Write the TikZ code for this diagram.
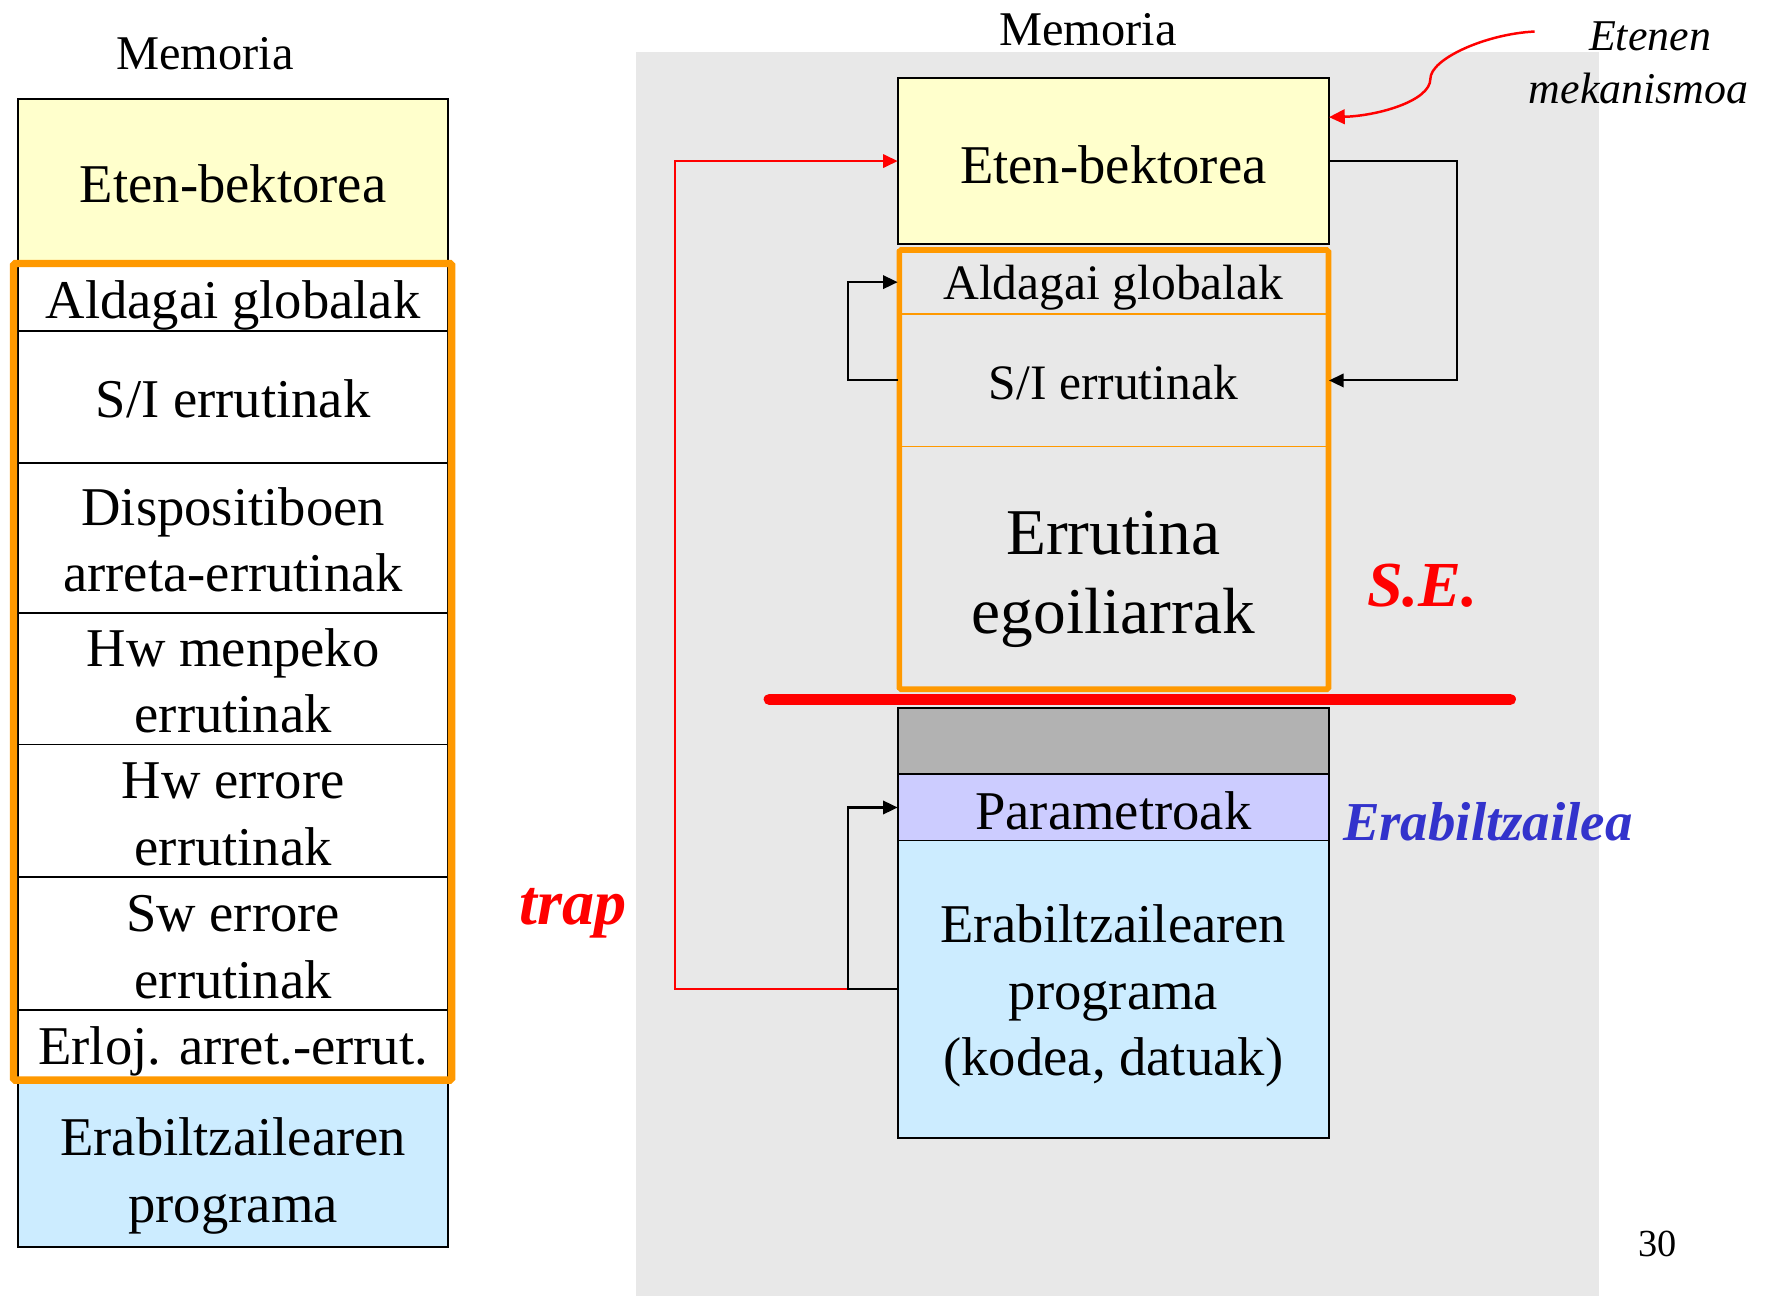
\documentclass[tikz,border=0pt]{standalone}
\usepackage{fontspec}
\setmainfont{Liberation Serif}
\usetikzlibrary{arrows.meta}

\definecolor{vecyellow}{HTML}{FFFFCC}
\definecolor{userblue}{HTML}{CCECFF}
\definecolor{paramlav}{HTML}{CCCCFF}
\definecolor{stackgray}{HTML}{B2B2B2}
\definecolor{panelgray}{HTML}{E8E8E8}
\definecolor{osorange}{HTML}{FF9900}
\definecolor{userlabel}{HTML}{3333CC}

\newcommand{\bigtext}{\fontsize{48.5}{59}\selectfont}

\begin{document}
\begin{tikzpicture}[x=1pt,y=-1pt,
  cell/.style={draw=black, line width=1.6pt, inner sep=0pt, outer sep=0pt, anchor=north west},
  leftcell/.style={cell, minimum width=382pt},
  rightcell/.style={cell, minimum width=383pt},
  oscell/.style={rightcell, draw=osorange, line width=1.4pt},
  celltext/.style={inner sep=0pt, outer sep=0pt, align=center, font=\bigtext},
  osframe/.style={draw=osorange, line width=6.5pt, rounded corners=1.5pt},
  tip/.style={-{Triangle[length=13pt,width=12pt]}},
  conn/.style={draw=black, line width=1.8pt, tip},
  trapconn/.style={draw=red, line width=1.8pt, tip},
  mechconn/.style={draw=red, line width=2.2pt, -{Triangle[length=14pt,width=13pt]}},
  plain/.style={inner sep=0pt, outer sep=0pt, anchor=base}
]
\useasboundingbox (0,0) rectangle (1568,1151);

% ---------- left column: the whole memory map ----------
\node[plain, font=\fontsize{43}{50}\selectfont] (lmem) at (182,62) {Memoria};

\node[leftcell, fill=vecyellow, minimum height=146pt] (lvec)  at (16,88)  {};
\node[leftcell, fill=white,     minimum height=60pt]  (lglob) at (16,234) {};
\node[leftcell, fill=white,     minimum height=117pt] (lsi)   at (16,294) {};
\node[leftcell, fill=white,     minimum height=133pt] (ldisp) at (16,411) {};
\node[leftcell, fill=white,     minimum height=117pt] (lhwm)  at (16,544) {};
\node[leftcell, fill=white,     minimum height=118pt] (lhwe)  at (16,661) {};
\node[leftcell, fill=white,     minimum height=118pt] (lswe)  at (16,779) {};
\node[leftcell, fill=white,     minimum height=61pt]  (lclk)  at (16,897) {};
\node[leftcell, fill=userblue,  minimum height=148pt] (luser) at (16,959) {};

\node[celltext] (lvec-t)  at ([yshift=-2pt]lvec.center)  {Eten-bektorea};
\node[celltext] (lglob-t) at ([yshift=-7pt]lglob.center) {Aldagai globalak};
\node[celltext] (lsi-t)   at ([yshift=-2pt]lsi.center)   {S/I errutinak};
\node[celltext] (ldisp-t) at ([yshift=-2pt]ldisp.center) {Dispositiboen\\arreta-errutinak};
\node[celltext] (lhwm-t)  at ([yshift=-2pt]lhwm.center)  {Hw menpeko\\errutinak};
\node[celltext] (lhwe-t)  at ([yshift=-3pt]lhwe.center)  {Hw errore\\errutinak};
\node[celltext] (lswe-t)  at ([yshift=-3pt]lswe.center)  {Sw errore\\errutinak};
\node[celltext] (lclk-t)  at ([yshift=-6pt]lclk.center)  {Erloj. arret.-errut.};
\node[celltext] (luser-t) at ([yshift=-11pt]luser.center) {Erabiltzailearen\\programa};

% operating-system part
\draw[osframe] (12,234) rectangle (401,959);

% ---------- right column: interrupt mechanism ----------
\node[fill=panelgray, inner sep=0pt, outer sep=0pt, anchor=north west,
      minimum width=855pt, minimum height=1105pt] (panel) at (565,46) {};
\node[plain, font=\fontsize{43}{50}\selectfont] (rmem) at (966,40) {Memoria};

\node[rightcell, fill=vecyellow, minimum height=147pt] (rvec) at (797,69.5) {};

\node[oscell, minimum height=57pt]    (rglob) at (797,222)   {};
\node[oscell, minimum height=117.6pt] (rsi)   at (797,279)   {};
\node[oscell, minimum height=215.4pt] (rres)  at (797,396.6) {};
\draw[osframe, line width=5pt] (798.5,222) rectangle (1179.5,612);

% kernel / user boundary
\draw[red, line width=10pt, line cap=round] (683,621) -- (1341,621);

\node[rightcell, fill=stackgray, minimum height=59pt]    (rstack) at (797,628.5) {};
\node[rightcell, fill=paramlav,  minimum height=58.7pt]  (rparam) at (797,687.6) {};
\node[rightcell, fill=userblue,  minimum height=264.4pt] (ruser)  at (797,746.3) {};

\node[celltext] (rvec-t)   at ([yshift=-3pt]rvec.center)   {Eten-bektorea};
\node[celltext, font=\fontsize{44}{54}\selectfont] (rglob-t) at ([yshift=-5pt]rglob.center) {Aldagai globalak};
\node[celltext, font=\fontsize{44}{54}\selectfont] (rsi-t)   at ([yshift=-2pt]rsi.center)   {S/I errutinak};
\node[celltext, font=\fontsize{58}{70}\selectfont] (rres-t)  at ([yshift=-10pt]rres.center) {Errutina\\egoiliarrak};
\node[celltext] (rparam-t) at ([yshift=-3pt]rparam.center) {Parametroak};
\node[celltext] (ruser-t)  at ([yshift=-6pt]ruser.center)  {Erabiltzailearen\\programa\\(kodea, datuak)};

% labels
\node[plain, red, font=\bfseries\itshape\fontsize{57}{66}\selectfont] (se) at (1263,538.6) {S.E.};
\node[plain, userlabel, font=\bfseries\itshape\fontsize{48.7}{58}\selectfont] (usr) at (1321,746.4) {Erabiltzailea};
\node[plain, red, font=\bfseries\itshape\fontsize{57}{66}\selectfont] (trap) at (509,820.4) {trap};
\node[plain, font=\itshape\fontsize{39}{46}\selectfont] (mech1) at (1465,45) {Etenen};
\node[plain, font=\itshape\fontsize{39}{46}\selectfont] (mech2) at (1455,91.7) {mekanismoa};
\node[plain, font=\fontsize{34}{40}\selectfont] (pgnum) at (1472,1116) {30};

% connectors
\coordinate (mechstart) at (1362.5,28);
\draw[mechconn] (mechstart) .. controls (1320,30) and (1270,52) .. (1270,70)
  .. controls (1270,90) and (1222,103) .. ([yshift=-34.5pt]rvec.north east);

\draw[trapconn] (ruser.west) -- ++(-198,0) |- (rvec.west);
\draw[conn] (ruser.west) -- ++(-44,0) |- (rparam.west);
\draw[conn] (rsi.west) -- ++(-44,0) |- (rglob.west);
\draw[conn] (rvec.east) -- ++(114,0) |- (rsi.east);
\end{tikzpicture}
\end{document}
